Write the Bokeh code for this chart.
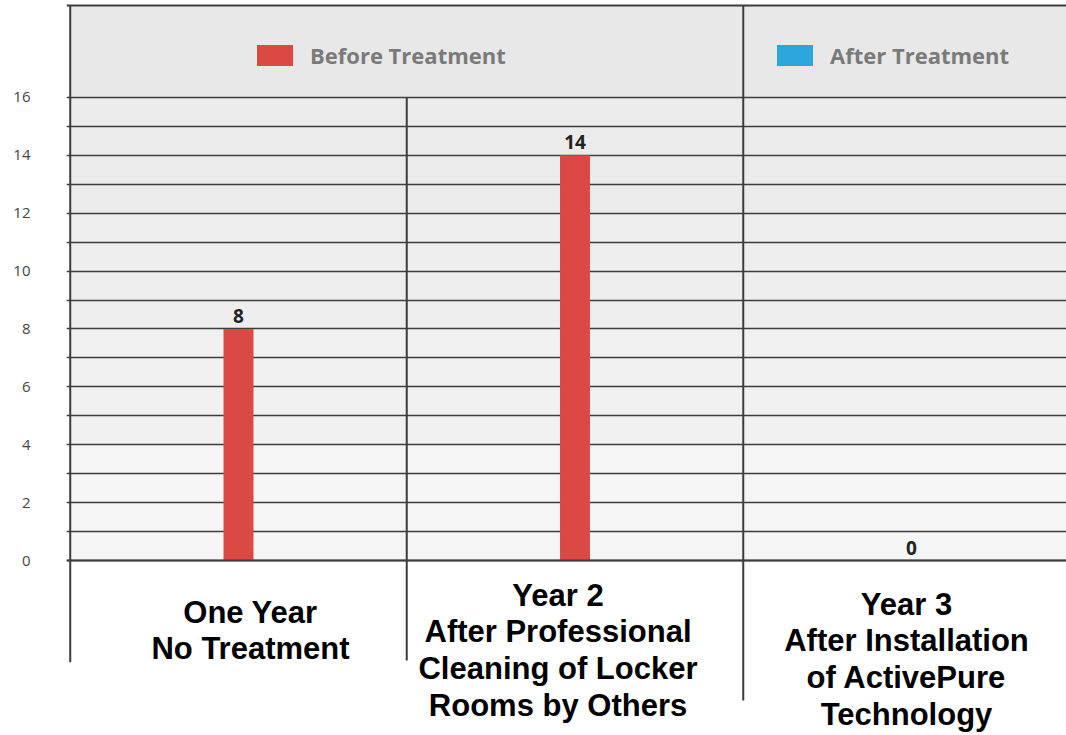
from bokeh.plotting import figure
from bokeh.models import ColumnDataSource, FixedTicker, Legend, LegendItem, BoxAnnotation, Span, Range1d
from bokeh.core.properties import value
from bokeh.embed import file_html
from bokeh.resources import INLINE

# ---- data ----
categories = [
    "One Year\nNo Treatment",
    "Year 2\nAfter Professional\nCleaning of Locker\nRooms by Others",
    "Year 3\nAfter Installation\nof ActivePure\nTechnology",
]
series = ["Before Treatment", "After Treatment"]
before_idx = [0, 1]
before_values = [8, 14]
after_idx = [2]
after_values = [0]
y_ticks = [0, 2, 4, 6, 8, 10, 12, 14, 16]
grid_ticks = list(range(0, 17))

# ---- style ----
RED = "#dc4844"
BLUE = "#2aa6dc"
LINE = "#3c3c3c"
label_dx = [12, -17, -5]
label_dy = [34, 17, 26]

Y_TOP = 19.179
p = figure(width=1066, height=735, output_backend="svg", toolbar_location=None,
           x_axis_location=None, y_axis_location="left",
           x_range=Range1d(-0.5111, 2.4606), y_range=Range1d(-6.0475, 19.352),
           min_border_left=66, min_border_right=0, min_border_top=0, min_border_bottom=0,
           background_fill_color="white", border_fill_color="white")
p.outline_line_color = None

# background tint of the chart panel
for lo, hi, col in [(0, 4, "#f5f5f5"), (4, 8, "#f1f1f1"), (8, 12, "#eeeeee"), (12, 16, "#ebebeb"), (16, Y_TOP, "#e8e8e8")]:
    p.add_layout(BoxAnnotation(bottom=lo, top=hi, left=-0.5, fill_color=col, fill_alpha=1,
                               line_color=None, level="image"))

# grid
p.xgrid.visible = False
p.ygrid.ticker = FixedTicker(ticks=grid_ticks)
p.ygrid.grid_line_color = LINE
p.ygrid.grid_line_width = 1.3

# axis
ax = p.yaxis[0]
ax.ticker = FixedTicker(ticks=y_ticks)
ax.axis_line_color = None
ax.major_tick_line_color = None
ax.minor_tick_line_color = None
ax.major_tick_out = 0
ax.major_label_standoff = 36
ax.major_label_text_font = "Open Sans"
ax.major_label_text_font_size = "15px"
ax.major_label_text_color = "#444444"

# borders / separators
p.add_layout(Span(location=Y_TOP, dimension="width", line_color=LINE, line_width=2))
p.add_layout(Span(location=0, dimension="width", line_color=LINE, line_width=1.8))
sep_src = ColumnDataSource(dict(
    x=[i - 0.5 for i in range(len(categories))],
    y0=[Y_TOP, 16, Y_TOP],
    y1=[-3.52, -3.46, -4.84],
))
p.segment(x0="x", y0="y0", x1="x", y1="y1", source=sep_src, line_color=LINE, line_width=2)

# bars
bsrc = ColumnDataSource(dict(x=before_idx, top=before_values))
asrc = ColumnDataSource(dict(x=after_idx, top=after_values))
rb = p.vbar(x="x", top="top", bottom=0, width=0.089, source=bsrc, fill_color=RED, line_color=None)
ra = p.vbar(x="x", top="top", bottom=0, width=0.089, source=asrc, fill_color=BLUE, line_color=None)

# value labels
vsrc = ColumnDataSource(dict(
    x=before_idx + after_idx,
    y=before_values + after_values,
    t=[str(v) for v in before_values + after_values],
))
p.text(x="x", y="y", text="t", source=vsrc, text_font=value("Open Sans"), text_font_style="bold",
       text_font_size="19px", text_color="#222222", text_align="center", text_baseline="bottom",
       y_offset=-6)

# category labels
csrc = ColumnDataSource(dict(x=list(range(len(categories))), y=[0] * len(categories),
                             t=categories, dx=label_dx, dy=label_dy))
p.text(x="x", y="y", text="t", source=csrc, x_offset="dx", y_offset="dy",
       text_font=value("Arial"), text_font_style="bold", text_font_size="31px",
       text_color="black", text_align="center", text_baseline="top", text_line_height=1.05)

# legends
for r, name, loc in [(rb, series[0], (186, 665)), (ra, series[1], (706, 665))]:
    lg = Legend(items=[LegendItem(label=name, renderers=[r])], location=loc,
                orientation="horizontal", padding=0, margin=0, border_line_color=None,
                background_fill_alpha=0, glyph_width=45, glyph_height=26, label_standoff=13,
                label_text_font="Open Sans", label_text_font_style="bold",
                label_text_font_size="22px", label_text_color="#7a7a7a")
    p.add_layout(lg, "center")

open("out.html", "w").write(file_html(p, INLINE))
